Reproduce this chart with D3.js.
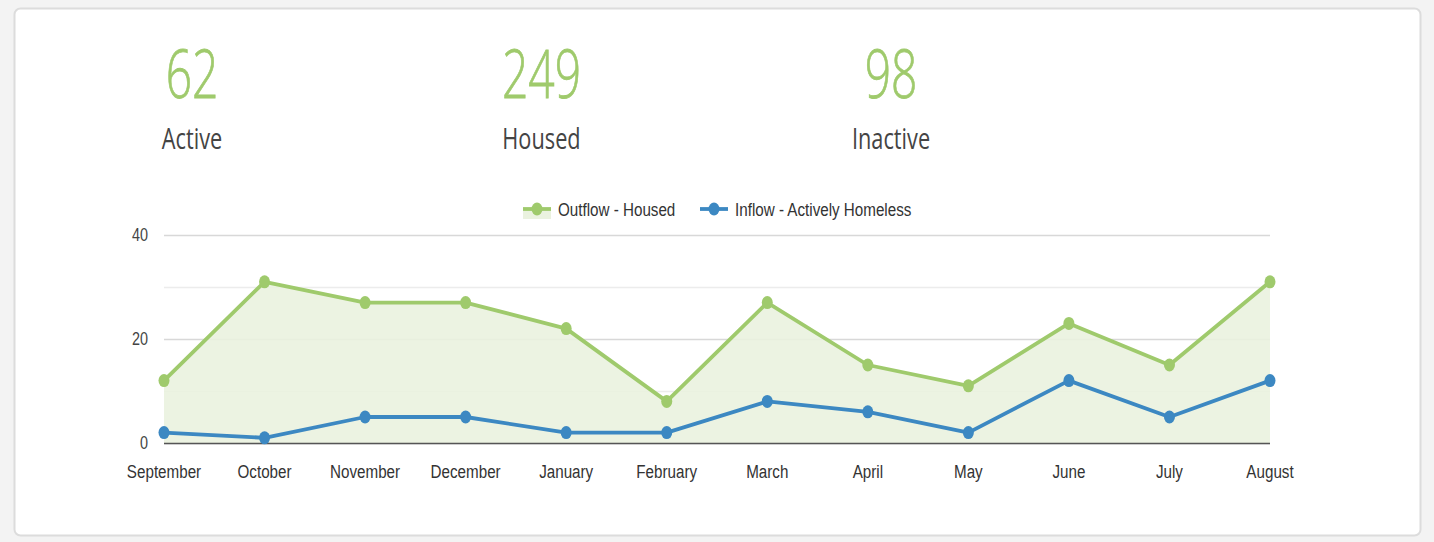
<html>
<head>
<script src="https://d3js.org/d3.v7.min.js"></script>
<style>
  body { margin: 0; background: #f3f3f3; }
  svg { display: block; }
</style>
</head>
<body>
<svg id="svg" width="1434" height="542"></svg>
<script>
var months = ["September","October","November","December","January","February","March","April","May","June","July","August"];
var housed = [12, 31, 27, 27, 22, 8, 27, 15, 11, 23, 15, 31];
var inflow = [2, 1, 5, 5, 2, 2, 8, 6, 2, 12, 5, 12];
var statValues = [62, 249, 98];
var statLabels = ["Active", "Housed", "Inactive"];
var yTicks = [0, 20, 40];
var gridTicks = [0, 10, 20, 30, 40];

var green = "#9fca6c";
var blue = "#3c88c2";
var squeeze = 0.8;

var svg = d3.select("svg");

// card
svg.append("rect").attr("x", 14.5).attr("y", 8.5).attr("width", 1406).attr("height", 527)
   .attr("rx", 6).attr("fill", "#fff").attr("stroke", "#dcdcdc").attr("stroke-width", 2);

// stats
var statX = d3.scalePoint().domain(statLabels).range([192, 891]);
statLabels.forEach(function(lab, i){
    svg.append("text").attr("transform", "translate(" + statX(lab) + ",98) scale(0.7,1)")
       .attr("text-anchor", "middle").attr("font-family", "Open Sans").attr("font-weight", 300)
       .attr("font-size", 66).attr("fill", green).attr("stroke", green).attr("stroke-width", 0.8)
       .text(statValues[i]);
    svg.append("text").attr("transform", "translate(" + statX(lab) + ",149) scale(0.75,1)")
       .attr("text-anchor", "middle").attr("font-family", "Open Sans")
       .attr("font-size", 29).attr("fill", "#444").text(lab);
});

var x = d3.scalePoint().domain(months).range([164, 1270]);
var y = d3.scaleLinear().domain([0, 40]).range([443, 235]);

// grid
svg.append("g").selectAll("line").data(gridTicks).enter().append("line")
   .attr("x1", 164).attr("x2", 1270)
   .attr("y1", function(d){ return y(d) + 0.5; }).attr("y2", function(d){ return y(d) + 0.5; })
   .attr("stroke", function(d){ return d % 20 === 0 ? "#d8d8d8" : "#ececec"; })
   .attr("stroke-width", 1.5);

// area
var area = d3.area().x(function(d, i){ return x(months[i]); }).y0(y(0)).y1(function(d){ return y(d); });
svg.append("path").datum(housed).attr("d", area).attr("fill", "#eaf2df").attr("opacity", 0.9);

// axis line
svg.append("line").attr("x1", 164).attr("x2", 1270).attr("y1", y(0) + 0.5).attr("y2", y(0) + 0.5)
   .attr("stroke", "#555").attr("stroke-width", 1.5);

var line = d3.line().x(function(d, i){ return x(months[i]); }).y(function(d){ return y(d); });

function drawSeries(data, color){
    svg.append("path").datum(data).attr("d", line).attr("fill", "none")
       .attr("stroke", color).attr("stroke-width", 3.8).attr("stroke-linejoin", "round");
    svg.append("g").selectAll("ellipse").data(data).enter().append("ellipse")
       .attr("cx", function(d, i){ return x(months[i]); }).attr("cy", function(d){ return y(d); })
       .attr("rx", 5.5).attr("ry", 6.5).attr("fill", color);
}
drawSeries(housed, green);
drawSeries(inflow, blue);

// y labels
yTicks.forEach(function(t){
    svg.append("text").attr("transform", "translate(148," + (y(t) + 6) + ") scale(" + squeeze + ",1)")
       .attr("text-anchor", "end").attr("font-family", "Liberation Sans").attr("font-size", 18)
       .attr("fill", "#444").text(t);
});

// x labels
months.forEach(function(m){
    svg.append("text").attr("transform", "translate(" + x(m) + ",478) scale(" + squeeze + ",1)")
       .attr("text-anchor", "middle").attr("font-family", "Liberation Sans").attr("font-size", 19)
       .attr("fill", "#333").text(m);
});

// legend
var legend = [
    {name: "Outflow - Housed", color: green, x: 523, fill: true},
    {name: "Inflow - Actively Homeless", color: blue, x: 700, fill: false}
];
legend.forEach(function(l){
    if (l.fill) {
        svg.append("rect").attr("x", l.x).attr("y", 209).attr("width", 28).attr("height", 10).attr("fill", "#eaf2df");
    }
    svg.append("line").attr("x1", l.x).attr("x2", l.x + 28).attr("y1", 209).attr("y2", 209)
       .attr("stroke", l.color).attr("stroke-width", 3.8);
    svg.append("ellipse").attr("cx", l.x + 14).attr("cy", 209).attr("rx", 5.5).attr("ry", 6.5).attr("fill", l.color);
    svg.append("text").attr("transform", "translate(" + (l.x + 35) + ",215.5) scale(" + squeeze + ",1)")
       .attr("font-family", "Liberation Sans").attr("font-size", 19).attr("fill", "#333").text(l.name);
});
</script>
</body>
</html>
